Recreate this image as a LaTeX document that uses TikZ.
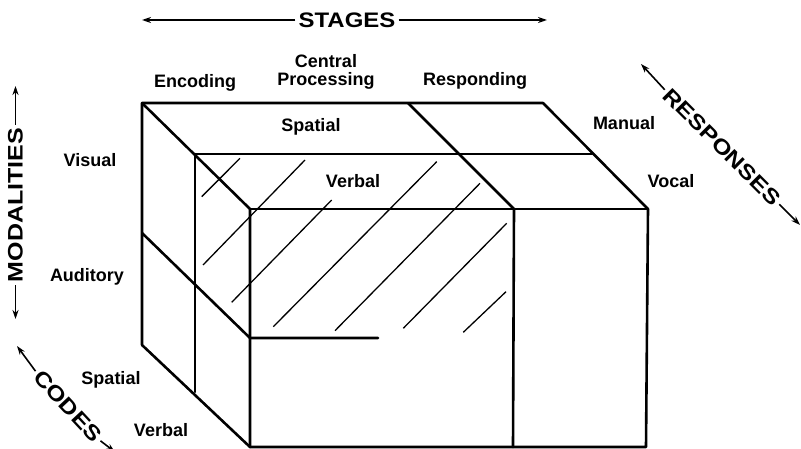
\documentclass[tikz,border=0pt]{standalone}
\usepackage{fontspec}
\setmainfont{Liberation Sans}
\usetikzlibrary{arrows.meta}
\begin{document}
\begin{tikzpicture}[x=1pt,y=-1pt,
  edge/.style={line width=2.6pt, line cap=round, line join=round},
  hatch/.style={line width=1.3pt},
  lbl/.style={font=\fontsize{18}{18}\selectfont\bfseries, inner sep=0pt},
  head/.style={font=\fontsize{21}{21}\selectfont\bfseries, inner sep=3pt},
  arr/.style={line width=1.6pt, -{Stealth[length=9pt,width=6pt]}}]
\useasboundingbox (0,0) rectangle (801,449);
% cube corners
\coordinate (btl) at (142,103);
\coordinate (btr) at (543,103);
\coordinate (bbl) at (142,345);
\coordinate (bdv) at (408,103);
\coordinate (mtl) at (195,154);
\coordinate (mtr) at (592,154);
\coordinate (mbl) at (195,392);
\coordinate (ftl) at (250,209);
\coordinate (ftr) at (648,209);
\coordinate (fbr) at (646,447);
\coordinate (fbl) at (250,447);
\coordinate (fdv) at (514,209);
\coordinate (fdvb) at (513,447);
\coordinate (lmb) at (142,233);
\coordinate (lmf) at (250,338);
\coordinate (lme) at (378,338);
% hatching
\draw[hatch] (201.7,196.7) -- (240,158.3);
\draw[hatch] (203,265) -- (305,160);
\draw[hatch] (231.7,302.3) -- (331.7,200);
\draw[hatch] (273.3,326.7) -- (436.7,161.7);
\draw[hatch] (335,330.7) -- (480,183.3);
\draw[hatch] (403.3,328.3) -- (506.7,223.3);
\draw[hatch] (463.3,332.3) -- (506,291.7);
% cube edges
\draw[edge] (bbl) -- (btl) -- (btr) -- (ftr) -- (fbr) -- (fbl) -- (bbl);
\draw[edge] (btl) -- (ftl) -- (fbl);
\draw[edge] (ftl) -- (ftr);
\draw[edge] (mtl) -- (mtr);
\draw[edge] (mtl) -- (mbl);
\draw[edge] (bdv) -- (fdv) -- (fdvb);
\draw[edge] (lmb) -- (lmf) -- (lme);
% labels
\node[lbl] (enc) at (195,83) {Encoding};
\node[lbl, align=center, font=\fontsize{18}{18}\selectfont\bfseries] (cp) at (326,72) {Central\\Processing};
\node[lbl] (resp) at (475,81) {Responding};
\node[lbl] (spt) at (311,127) {Spatial};
\node[lbl] (vbt) at (353,181) {Verbal};
\node[lbl] (man) at (624,123) {Manual};
\node[lbl] (voc) at (671,181) {Vocal};
\node[lbl] (vis) at (90,160) {Visual};
\node[lbl] (aud) at (87,277) {Auditory};
\node[lbl] (spl) at (111,380) {Spatial};
\node[lbl] (vbl) at (161,430) {Verbal};
% headings
\node[head] (stg) at (347,20) {\scalebox{1.14}[1]{STAGES}};
\coordinate (stgl) at (142,20);
\coordinate (stgr) at (547,20);
\draw[arr] (stg.west) -- (stgl);
\draw[arr] (stg.east) -- (stgr);
\node[head, rotate=90] (mod) at (15.5,205) {\scalebox{1.19}[1]{MODALITIES}};
\coordinate (modt) at (15.5,86);
\coordinate (modb) at (15.5,319);
\draw[arr] (mod.east) -- (modt);
\draw[arr] (mod.west) -- (modb);
\node[head, rotate=-45] (rsp) at (722,147) {\scalebox{1.19}[1]{RESPONSES}};
\coordinate (rspa) at (641,64);
\coordinate (rspb) at (800,225);
\draw[arr] (rsp.west) -- (rspa);
\draw[arr] (rsp.east) -- (rspb);
\node[head, rotate=-47] (cod) at (68,406) {\scalebox{1.19}[1]{CODES}};
\coordinate (coda) at (17,346);
\coordinate (codb) at (115,452);
\draw[arr] (cod.west) -- (coda);
\draw[arr] (cod.east) -- (codb);
\end{tikzpicture}
\end{document}
